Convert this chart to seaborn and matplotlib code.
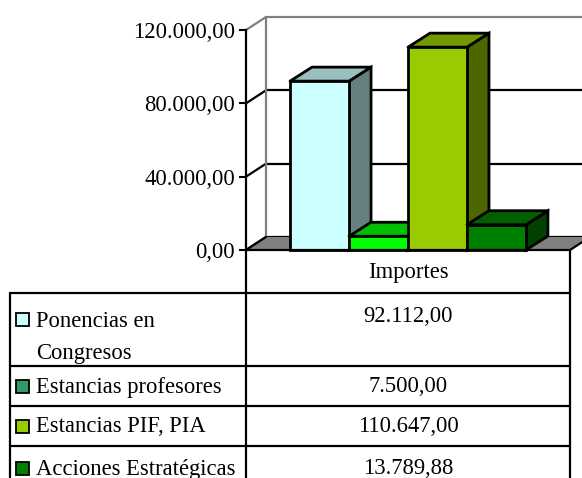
import numpy as np
import pandas as pd
import matplotlib
matplotlib.use('Agg')
import matplotlib.pyplot as plt
from matplotlib.patches import Polygon, Rectangle
from matplotlib.colors import to_rgb
from matplotlib.ticker import FuncFormatter
import seaborn as sns

# Datos
grupo = 'Importes'
series = ['Ponencias en Congresos', 'Estancias profesores', 'Estancias PIF, PIA', 'Acciones Estratégicas']
etiquetas_tabla = ['Ponencias en\nCongresos', 'Estancias profesores', 'Estancias PIF, PIA', 'Acciones Estratégicas']
importes = [92112.00, 7500.00, 110647.00, 13789.88]
yticks = [0, 40000, 80000, 120000]
bar_colors = ['#CCFFFF', '#00FF00', '#99CC00', '#008000']
legend_colors = ['#CCFFFF', '#339966', '#99CC00', '#008000']

df = pd.DataFrame({'grupo': [grupo] * len(series), 'serie': series, 'importe': importes})

sns.set_style('white')
plt.rcParams['font.family'] = ['Liberation Serif', 'DejaVu Serif']
FS = 16.3


def es_num(v, pos=None):
    s = f"{v:,.2f}"
    return s.replace(',', 'X').replace('.', ',').replace('X', '.')


def shade(c, f):
    return tuple(np.array(to_rgb(c)) * f)


W, H = 582, 478
fig = plt.figure(figsize=(W / 100, H / 100), dpi=100)

# tabla (coordenadas en pixeles)
ax_t = fig.add_axes([0, 0, 1, 1])
ax_t.set_xlim(0, W)
ax_t.set_ylim(H, 0)
ax_t.axis('off')

# grafico
x_left, x_right, y_top, y_bot = 246, 570, 30, 250
ax = fig.add_axes([x_left / W, 1 - y_bot / H, (x_right - x_left) / W, (y_bot - y_top) / H])
ax.set_facecolor('none')

sns.barplot(data=df, x='grupo', y='importe', hue='serie', palette=bar_colors,
            width=0.728, dodge=True, legend=False, saturation=1,
            edgecolor='black', linewidth=2, ax=ax)
bars = sorted(ax.patches, key=lambda p: p.get_x())

ax.set_xlim(-0.5, 0.5)
ax.set_ylim(0, 120000)
ax.set_yticks(yticks)
ax.yaxis.set_major_formatter(FuncFormatter(es_num))
ax.tick_params(axis='y', left=True, length=5, width=1.5, color='black', pad=3,
               labelsize=FS, labelcolor='black')
ax.tick_params(axis='x', bottom=False, labelbottom=False)
ax.set_xlabel('')
ax.set_ylabel('')
for s in ['top', 'right']:
    ax.spines[s].set_visible(False)
ax.spines['left'].set_color('black')
ax.spines['left'].set_linewidth(1.6)
ax.spines['left'].set_zorder(50)
ax.spines['bottom'].set_color('black')
ax.spines['bottom'].set_linewidth(1.6)
ax.spines['bottom'].set_zorder(50)

# pixel -> data
px = 1.0 / (x_right - x_left)
py = 120000.0 / (y_bot - y_top)
wdx, wdy = 20 * px, 13 * py   # profundidad paredes
bdx, bdy = 22 * px, 14 * py   # profundidad barras

x0, x1 = -0.5, 0.5
top = yticks[-1]
# pared del fondo
ax.add_patch(Rectangle((x0 + wdx, wdy), 1, top, facecolor='white', edgecolor='none',
                       zorder=1, clip_on=False))
for t in yticks:
    col = '#808080' if t == top else 'black'
    ax.plot([x0 + wdx, x1 + wdx + 0.1], [t + wdy, t + wdy], color=col, lw=1.6,
            zorder=2, clip_on=False, solid_capstyle='butt')
    ax.plot([x0, x0 + wdx], [t, t + wdy], color=col, lw=1.6, zorder=2, clip_on=False)
ax.plot([x0 + wdx, x0 + wdx], [wdy, top + wdy], color='#808080', lw=1.6, zorder=2, clip_on=False)
# suelo
ax.add_patch(Polygon([(x0, 0), (x1, 0), (x1 + wdx, wdy), (x0 + wdx, wdy)],
                     closed=True, facecolor='#808080', edgecolor='none', zorder=3, clip_on=False))
ax.plot([x0, x0 + wdx], [0, wdy], color='black', lw=1.6, zorder=4, clip_on=False)
ax.plot([x1, x1 + wdx], [0, wdy], color='black', lw=1.6, zorder=4, clip_on=False)

# caras laterales y superiores de las barras
for i, b in enumerate(bars):
    bx, bw, bh = b.get_x(), b.get_width(), b.get_height()
    c = b.get_facecolor()
    z = 10 + 3 * i
    side = Polygon([(bx + bw, 0), (bx + bw + bdx, bdy), (bx + bw + bdx, bh + bdy), (bx + bw, bh)],
                   closed=True, facecolor=shade(c, 0.5), edgecolor='black', lw=2,
                   zorder=z, clip_on=False)
    cap = Polygon([(bx, bh), (bx + bw, bh), (bx + bw + bdx, bh + bdy), (bx + bdx, bh + bdy)],
                  closed=True, facecolor=shade(c, 0.75), edgecolor='black', lw=2,
                  zorder=z, clip_on=False, joinstyle='round')
    ax.add_patch(side)
    ax.add_patch(cap)
    b.set_zorder(z + 1)
    b.set_clip_on(False)

# tabla de datos
lw = 1.6
rows = [293, 366, 406, 446, 490]
tx0, tx1, tx2 = 10, 246, 570
ax_t.plot([tx1, tx1], [y_bot, H + 5], color='black', lw=lw)
ax_t.plot([tx2, tx2], [y_bot, H + 5], color='black', lw=lw)
ax_t.plot([tx0, tx0], [rows[0], H + 5], color='black', lw=lw)
for r in rows[:-1]:
    ax_t.plot([tx0, tx2], [r, r], color='black', lw=lw)
ax_t.text((tx1 + tx2) / 2, (y_bot + rows[0]) / 2 + 1, grupo, ha='center', va='center',
          fontsize=FS, color='black')

for i, (lab, val, col) in enumerate(zip(etiquetas_tabla, importes, legend_colors)):
    r0, r1 = rows[i], rows[i + 1]
    yc = (r0 + r1) / 2 + 1 if '\n' not in lab else r0 + 27
    ax_t.add_patch(Rectangle((16, yc - 7), 13, 13, facecolor=col, edgecolor='black', lw=1.3))
    if '\n' in lab:
        ax_t.text(36, r0 + 18, lab, ha='left', va='top', fontsize=FS, color='black',
                  linespacing=1.7)
    else:
        ax_t.text(36, yc, lab, ha='left', va='center', fontsize=FS, color='black')
    ax_t.text((tx1 + tx2) / 2, (r0 + 24) if '\n' in lab else yc, es_num(val),
              ha='center', va='center', fontsize=FS, color='black')

fig.savefig('out.png', dpi=100)
